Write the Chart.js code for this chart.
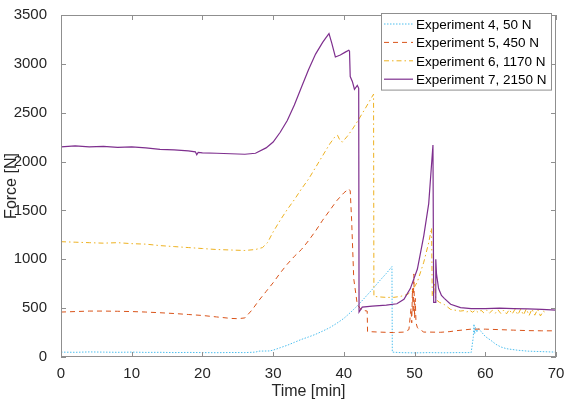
<!DOCTYPE html>
<html>
<head>
<meta charset="utf-8">
<script src="https://cdn.jsdelivr.net/npm/chart.js@4"></script>
<style>
  html, body { margin: 0; padding: 0; background: #fff; }
</style>
</head>
<body>
<canvas id="myChart" width="567" height="404"></canvas>
<script>
// Data (time in min, force in N)
const legendLabels = ["Experiment 4, 50 N", "Experiment 5, 450 N", "Experiment 6, 1170 N", "Experiment 7, 2150 N"];

const exp4Time = [0, 2, 4, 6, 8, 10, 12, 14, 16, 18, 20, 22, 24, 26, 27.5, 28, 29.5, 30, 31, 32, 33, 34, 35, 36, 37, 38, 39, 40, 41, 42, 43, 44, 45, 46, 46.8, 46.85, 48, 50, 52, 54, 56, 58, 58.2, 58.3, 58.4, 58.5, 58.6, 58.8, 59, 59.3, 60, 60.8, 61.5, 62.2, 63, 64.5, 66, 68, 70];
const exp4Force = [50, 48, 52, 50, 48, 50, 47, 48, 45, 47, 45, 44, 46, 45, 50, 60, 62, 70, 95, 120, 150, 180, 205, 232, 265, 300, 345, 395, 460, 530, 610, 690, 775, 855, 925, 50, 45, 42, 45, 43, 45, 45, 150, 200, 337, 237, 303, 253, 290, 270, 210, 170, 130, 103, 85, 70, 60, 55, 50];

const exp5Time = [0, 2, 4, 6, 8, 10, 12, 14, 16, 18, 20, 22, 24, 25, 26, 27, 28, 29, 30, 31, 32, 33, 34, 35, 36, 37, 38, 39, 40, 40.7, 40.9, 41.1, 41.4, 41.9, 42.5, 43.3, 43.35, 45, 47, 48.5, 49.2, 49.5, 49.6, 49.7, 49.8, 49.9, 50, 50.1, 50.2, 50.4, 51.3, 52, 53.7, 55, 56, 58, 60, 62, 64, 66, 68, 70];
const exp5Force = [460, 465, 470, 470, 468, 465, 460, 453, 445, 435, 425, 410, 395, 392, 400, 480, 580, 670, 760, 860, 950, 1030, 1100, 1190, 1290, 1400, 1500, 1600, 1680, 1720, 1700, 1400, 800, 537, 480, 470, 260, 255, 250, 255, 280, 500, 350, 700, 450, 850, 400, 600, 350, 300, 255, 255, 253, 260, 270, 285, 285, 280, 275, 270, 268, 268];

const exp6Time = [0, 2, 4, 6, 8, 10, 12, 14, 16, 18, 20, 22, 24, 26, 27.5, 28.5, 29.2, 30, 31, 32, 33, 34, 35, 36, 37, 38, 38.7, 39.1, 39.5, 39.8, 40.5, 41.2, 42, 43, 44.2, 44.25, 45, 46, 47, 48, 49, 49.7, 50.4, 51.3, 52, 52.4, 52.5, 52.8, 53, 53.5, 54.2, 55.1, 56.5, 57, 57.4, 57.8, 58.2, 58.6, 59, 59.4, 59.8, 60.2, 60.6, 61, 61.4, 61.8, 62.2, 62.6, 63, 63.4, 63.8, 64.2, 64.6, 65, 65.4, 65.8, 66.2, 66.6, 67, 67.4, 67.8, 68.2, 68.5];
const exp6Force = [1180, 1175, 1170, 1165, 1170, 1160, 1155, 1140, 1130, 1120, 1110, 1100, 1095, 1090, 1100, 1120, 1170, 1280, 1400, 1510, 1610, 1720, 1820, 1940, 2060, 2180, 2250, 2270, 2210, 2200, 2260, 2330, 2420, 2540, 2690, 620, 615, 610, 610, 620, 640, 680, 770, 970, 1170, 1320, 620, 760, 590, 560, 537, 487, 470, 475, 460, 478, 458, 480, 455, 478, 452, 480, 450, 478, 448, 482, 445, 480, 442, 485, 440, 488, 432, 490, 430, 492, 425, 490, 428, 488, 420, 470, 455];

const exp7Time = [0, 2, 4, 6, 8, 10, 12, 14, 16, 18, 19, 19.2, 19.4, 20, 22, 24, 26, 27.5, 29, 30, 31, 32, 33, 34, 35, 36, 37, 37.5, 37.9, 38.3, 38.8, 39.5, 40.2, 40.7, 40.8, 40.9, 41.2, 41.5, 41.9, 42.1, 42.15, 42.6, 44, 46, 47.5, 48.5, 49.4, 50.4, 51.3, 52, 52.6, 52.7, 52.9, 53, 53.1, 53.4, 53.8, 54.2, 55.1, 56.5, 58, 60, 62, 64, 66, 68, 70];
const exp7Force = [2150, 2160, 2150, 2155, 2145, 2150, 2140, 2125, 2120, 2110, 2100, 2070, 2095, 2090, 2085, 2080, 2075, 2085, 2140, 2200, 2300, 2420, 2580, 2760, 2940, 3100, 3220, 3270, 3310, 3210, 3070, 3090, 3120, 3140, 3130, 2870, 2820, 2740, 2780, 2750, 460, 510, 520, 530, 545, 590, 700, 900, 1240, 1570, 2170, 560, 560, 1000, 850, 700, 630, 600, 540, 505, 495, 495, 500, 495, 492, 488, 480];

const xTicks = [0, 10, 20, 30, 40, 50, 60, 70];
const yTicks = [0, 500, 1000, 1500, 2000, 2500, 3000, 3500];

const colors = ["#4DBEEE", "#D95319", "#EDB120", "#7E2F8E"];
const dashes = [[1.5, 1.5], [5, 4], [5, 3, 1.5, 3], []];
const widths = [1, 1, 1, 1.2];
const axisColor = "#8f8f8f";
const textColor = "#262626";
const fontFamily = '"Liberation Sans", Arial, Helvetica, sans-serif';

function toPoints(t, f) {
  return t.map((v, i) => ({ x: v, y: f[i] }));
}

const seriesTime = [exp4Time, exp5Time, exp6Time, exp7Time];
const seriesForce = [exp4Force, exp5Force, exp6Force, exp7Force];

const datasets = legendLabels.map((label, i) => ({
  label: label,
  data: toPoints(seriesTime[i], seriesForce[i]),
  borderColor: colors[i],
  borderDash: dashes[i],
  borderWidth: widths[i],
  pointRadius: 0,
  tension: 0,
  fill: false,
  order: 3 - i,
}));

// box, inward ticks and legend, MATLAB style
const boxPlugin = {
  id: "boxPlugin",
  afterDatasetsDraw(chart) {
    const { ctx, chartArea: a, scales } = chart;
    const x = scales.x, y = scales.y;
    ctx.save();
    ctx.strokeStyle = axisColor;
    ctx.lineWidth = 1;
    ctx.setLineDash([]);
    ctx.strokeRect(Math.round(a.left) + 0.5, Math.round(a.top) + 0.5, Math.round(a.right - a.left) - 1, Math.round(a.bottom - a.top) - 1);
    ctx.beginPath();
    xTicks.forEach(v => {
      const px = Math.round(x.getPixelForValue(v)) + 0.5;
      ctx.moveTo(px, a.bottom); ctx.lineTo(px, a.bottom - 5);
      ctx.moveTo(px, a.top); ctx.lineTo(px, a.top + 5);
    });
    yTicks.forEach(v => {
      const py = Math.round(y.getPixelForValue(v)) + 0.5;
      ctx.moveTo(a.left, py); ctx.lineTo(a.left + 5, py);
      ctx.moveTo(a.right, py); ctx.lineTo(a.right - 5, py);
    });
    ctx.stroke();

    // legend
    const lx = 381, ly = 13, lw = 170, rowH = 18.4;
    const lh = rowH * legendLabels.length + 3;
    ctx.fillStyle = "#fff";
    ctx.fillRect(lx, ly, lw, lh);
    ctx.strokeRect(lx + 0.5, ly + 0.5, lw, lh);
    ctx.font = "13.5px " + fontFamily;
    ctx.textBaseline = "middle";
    legendLabels.forEach((label, i) => {
      const cy = ly + 11 + i * rowH;
      ctx.strokeStyle = colors[i];
      ctx.lineWidth = widths[i];
      ctx.setLineDash(dashes[i]);
      ctx.beginPath();
      ctx.moveTo(lx + 3, cy); ctx.lineTo(lx + 32, cy);
      ctx.stroke();
      ctx.fillStyle = "#000";
      ctx.fillText(label, lx + 35, cy + 1);
    });
    ctx.restore();
  }
};

const config = {
  type: "line",
  data: { datasets: datasets },
  options: {
    responsive: false,
    animation: false,
    layout: { padding: { left: 0, right: 11, top: 7, bottom: 0 } },
    plugins: {
      legend: { display: false },
      tooltip: { enabled: false },
    },
    scales: {
      x: {
        type: "linear",
        min: 0,
        max: 70,
        afterBuildTicks: (scale) => { scale.ticks = xTicks.map(v => ({ value: v })); },
        afterFit: (scale) => { scale.height = 47; },
        grid: { display: false },
        border: { display: false },
        ticks: { color: textColor, font: { family: fontFamily, size: 15 }, padding: 0, maxRotation: 0, callback: (v) => String(v) },
        title: { display: true, text: "Time [min]", color: textColor, font: { family: fontFamily, size: 16 }, padding: { top: 0, bottom: 3 } },
      },
      y: {
        type: "linear",
        min: 0,
        max: 3500,
        afterBuildTicks: (scale) => { scale.ticks = yTicks.map(v => ({ value: v })); },
        afterFit: (scale) => { scale.width = 61; },
        grid: { display: false },
        border: { display: false },
        ticks: { color: textColor, font: { family: fontFamily, size: 15 }, padding: 6, callback: (v) => String(v) },
        title: { display: true, text: "Force [N]", color: textColor, font: { family: fontFamily, size: 16 }, padding: { top: 2, bottom: 0 } },
      },
    },
  },
  plugins: [boxPlugin],
};

const myChart = new Chart(document.getElementById("myChart"), config);
</script>
</body>
</html>
